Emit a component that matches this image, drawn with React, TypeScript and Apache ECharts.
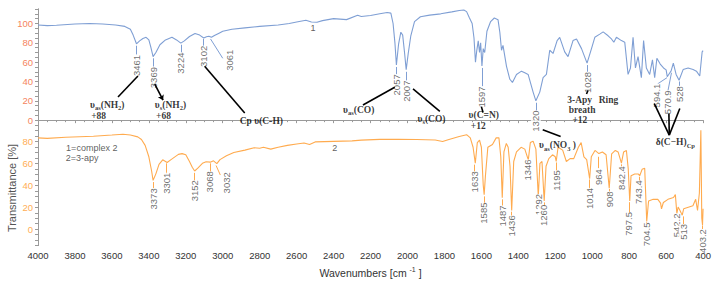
import React, { useEffect, useRef } from 'react';
import * as echarts from 'echarts';

// ---- curve 1: complex 2 (upper scale) [wavenumber, %T]
const complex2Curve: [number, number][] = [
  [4000, 98.5], [3950, 97.8], [3900, 98.2], [3800, 99.5], [3720, 100], [3650, 99.5], [3580, 98.5],
  [3530, 97], [3500, 94], [3485, 88], [3467, 79], [3450, 82], [3432, 84.5], [3415, 85.7], [3400, 83],
  [3390, 76], [3377, 65.7], [3362, 70], [3340, 78], [3310, 83], [3275, 85.7], [3250, 83], [3227, 79.7],
  [3208, 82], [3180, 86.5], [3150, 89.7], [3125, 88], [3103, 85], [3088, 86.3], [3075, 86.8], [3061, 85.7],
  [3045, 87.5], [3020, 90], [3000, 92], [2950, 94], [2880, 95.5], [2800, 97], [2700, 98.5], [2640, 100],
  [2600, 101.5], [2550, 103.3], [2520, 101.5], [2490, 101.3], [2460, 103], [2400, 105], [2330, 104],
  [2270, 108.5], [2250, 107.3], [2200, 108.3], [2150, 110], [2110, 111.3], [2090, 110.7], [2078, 100],
  [2068, 80], [2060, 57], [2048, 79], [2036, 91], [2026, 88], [2016, 70], [2007, 52.3], [1996, 69],
  [1982, 87.3], [1962, 102], [1930, 107], [1880, 108.7], [1820, 110], [1760, 112], [1720, 113.5],
  [1695, 114], [1680, 112.3], [1665, 106], [1650, 100], [1640, 85], [1632, 60], [1625, 72], [1617, 82],
  [1610, 70], [1604, 80], [1597, 56], [1590, 74], [1582, 70], [1570, 92], [1550, 102], [1530, 105.7],
  [1510, 104], [1500, 90.7], [1491, 72.3], [1483, 77.3], [1464, 55.7], [1446, 42.3], [1432, 39],
  [1410, 47.3], [1383, 50.7], [1365, 49], [1347, 47.3], [1320, 29], [1305, 20], [1284, 29], [1266, 44],
  [1248, 47.3], [1230, 72.3], [1212, 69], [1190, 82.3], [1176, 85.7], [1149, 70.7], [1131, 65.7],
  [1104, 82.3], [1085, 84], [1058, 74], [1028, 59], [1004, 74], [986, 85.7], [959, 89], [941, 91.3],
  [914, 87.3], [896, 84], [883, 80.7], [869, 85.7], [842, 82.3], [824, 80.7], [806, 47.3], [793, 54],
  [779, 85.7], [766, 54], [752, 65.7], [734, 44], [722, 82.3], [707, 54], [689, 47.3], [674, 62.3],
  [662, 44], [650, 64], [632, 58], [614, 54], [600, 52], [594, 45], [586, 47.3], [573, 51], [561, 59],
  [546, 47.3], [530, 41.3], [508, 52.3], [481, 54], [454, 52.3], [436, 50.7], [418, 45.7], [405, 70.7],
  [400, 72],
];

// ---- curve 2: 3-apy (lower scale) [wavenumber, %T]
const apyCurve: [number, number][] = [
  [4000, 83.5], [3950, 83], [3850, 84], [3700, 85], [3600, 86.1], [3540, 86.8], [3500, 86.1], [3460, 84.4],
  [3440, 82], [3420, 76.6], [3400, 66.2], [3385, 53.2], [3377, 44.6], [3362, 50.6], [3345, 59.3],
  [3325, 63.4], [3301, 61], [3280, 63.6], [3240, 68.4], [3220, 69.1], [3200, 68], [3180, 61.9],
  [3165, 56.7], [3152, 53.2], [3135, 55.8], [3110, 60.2], [3090, 61.6], [3068, 61.3], [3050, 62.5],
  [3032, 59.9], [3015, 63.6], [2980, 67.1], [2940, 70.1], [2880, 72.3], [2830, 74.5], [2800, 74],
  [2780, 74.9], [2740, 73.2], [2700, 74.9], [2650, 76.6], [2600, 77.9], [2560, 78.8], [2530, 77.5],
  [2500, 79.8], [2400, 80.3], [2300, 80.7], [2250, 81.4], [2150, 82.1], [2050, 82.1], [1950, 82],
  [1850, 81.5], [1810, 80.1], [1780, 81.8], [1720, 84.8], [1680, 86.4], [1660, 83.5], [1645, 74.9],
  [1633, 60.4], [1622, 79.2], [1610, 81.4], [1600, 74.9], [1590, 40.3], [1585, 31.6], [1578, 49],
  [1565, 74.9], [1540, 77.5], [1520, 83.5], [1505, 83.5], [1495, 66.2], [1487, 28.7], [1478, 70.6],
  [1465, 78.4], [1455, 74.9], [1445, 57.6], [1436, 17.1], [1425, 61.9], [1410, 70.6], [1385, 74.9],
  [1365, 73.2], [1346, 63.4], [1335, 79.2], [1320, 80.5], [1305, 73.2], [1292, 30.1], [1283, 60.2],
  [1272, 61.9], [1260, 25.8], [1250, 57.6], [1235, 64.5], [1215, 68], [1200, 66.2], [1195, 61.9],
  [1185, 74.9], [1160, 72.3], [1140, 61.9], [1120, 64.5], [1100, 64.5], [1075, 74.9], [1060, 79.2],
  [1045, 66.2], [1030, 63.6], [1014, 46.1], [1005, 66.2], [985, 72], [964, 69.1], [945, 70.6], [925, 68],
  [908, 37.4], [895, 68.8], [875, 72], [860, 70.6], [842, 60.4], [830, 70.6], [815, 72], [805, 55],
  [797, 25.8], [790, 48.9], [770, 50.4], [750, 50.4], [743, 48.9], [730, 54.7], [716, 55.8], [705, 7.1],
  [695, 25.8], [670, 27.3], [645, 27.3], [630, 23.8], [625, 18.6], [615, 24.4], [590, 27.3], [560, 29],
  [550, 31.6], [542, 14.3], [535, 20.3], [525, 17.1], [513, 12.8], [505, 18.6], [480, 20.1], [455, 21.5],
  [440, 27.3], [430, 17.1], [420, 33.1], [412, 90.5], [407, 10], [403, 3.9], [400, 18.6],
];

// ---- peak labels [wavenumber, value at label centre, text]
const complex2PeakLabels: [number, number, string][] = [
  [3467, 56.5, '3461'], [3377, 44, '3369'], [3227, 59, '3224'], [3103, 66, '3102'], [2962, 62, '3061'],
  [2060, 36.5, '2057'], [2006, 30, '2007'], [1597, 24, '1597'], [1305, -1, '1320'], [1027, 39, '1028'],
  [652, 25.5, '594.1'], [592, 18.5, '570.9'], [530, 27, '528'],
];
// leader lines [wn1, v1, wn2, v2]
const complex2Leaders: [number, number, number, number][] = [
  [3467, 77, 3467, 68], [3377, 64, 3377, 55.5], [3227, 78, 3227, 70], [3103, 84, 3103, 77],
  [3066, 84, 3000, 64], [2060, 55, 2060, 47.5], [2006, 50, 2006, 41], [1597, 54, 1597, 35],
  [1305, 18, 1305, 10], [1027, 57, 1027, 50], [595, 44, 646, 37.5], [571, 49, 590, 30.5], [530, 40, 530, 35.5],
];

const apyPeakLabels: [number, number, string][] = [
  [3377, 27.7, '3373'], [3305, 42, '3301'], [3152, 35.1, '3152'], [3070, 43.3, '3068'], [2980, 42.4, '3032'],
  [1636, 43.3, '1633'], [1587, 14.7, '1585'], [1486, 12.1, '1487'], [1437, 3, '1436'], [1353, 54.1, '1346'],
  [1293, 22.5, '1292'], [1262, 12.6, '1260'], [1194, 44.6, '1195'], [1016, 28.1, '1014'], [965, 47.6, '964'],
  [909, 27.3, '908'], [842, 46.8, '842.4'], [801, 4.8, '797.5'], [747, 33.8, '743.4'], [706, -4.8, '704.5'],
  [546, 3.5, '542.2'], [505, -2.5, '513'], [403, -10.8, '403.2'],
];
const apyLeaders: [number, number, number, number][] = [
  [3377, 43.1, 3377, 37.4], [3305, 60.2, 3305, 50.6], [3152, 51.5, 3152, 42.9], [3070, 60.2, 3070, 51.5],
  [3036, 58.2, 3013, 49.5], [1636, 59, 1636, 50.6], [1587, 30, 1587, 22.1], [1486, 27.3, 1486, 20.3],
  [1437, 16, 1437, 11.7], [1353, 63, 1353, 61.9], [1293, 29, 1293, 29.5], [1262, 24.5, 1262, 20.3],
  [1194, 61, 1194, 51.5], [1016, 45.5, 1016, 35.9], [965, 66.2, 965, 55.8], [909, 36.8, 909, 34.2],
  [842, 59.3, 842, 55.8], [801, 24.7, 801, 14.3], [747, 48, 747, 43.7], [706, 6.5, 706, 4.8],
  [505, 11.7, 505, 3], [403, 3.5, 403, 0],
];

// ---- assignment annotations [wavenumber, value (upper scale), rich text]
const assignmentTexts: [number, number, string][] = [
  [3625, 16, '{b|υ}{s|as}{b|(NH}{s|2}{b|)}'],
  [3672, 4, '{b|+88}'],
  [3283, 16, '{b|υ}{s|s}{b|(NH}{s|2}{b|)}'],
  [3321, 4, '{b|+68}'],
  [2791, -1, '{b|Cp υ(C-H)}'],
  [2264, 11, '{b|υ}{s|as}{b|(CO)}'],
  [1870, 1.3, '{b|υ}{s|s}{b|(CO)}'],
  [1587, 5, '{b|υ(C=N)}'],
  [1617, -6, '{b|+12}'],
  [1188, -26, '{b|υ}{s|as}{b|(NO}{s|3}{b| )}'],
  [1068, 20.7, '{b|3-Apy}'],
  [912, 20.7, '{b|Ring}'],
  [1055, 10, '{b|breath}'],
  [1067, 0, '{b|+12}'],
  [550, -22.7, '{b|δ(C−H)}{s|Cp}'],
  [3709, -28.7, '{t|1=complex 2}'],
  [3761, -39.3, '{t|2=3-apy}'],
  [2511, 95.7, '{t|1}'],
  [2394, -28.7, '{t|2}'],
];
// black connector lines [wn1, v1, wn2, v2] (upper scale)
const assignmentLines: [number, number, number, number][] = [
  [3459, 45.7, 3567, 24],
  [3098, 55.7, 2881, 7.3],
  [2069, 34, 2241, 15.7],
  [1970, 32.3, 1825, 9],
  [1600, 14, 1591, 8],
  [1268, -10, 1171, -17],
  [1023, 30.7, 1031, 27],
  [664, 17, 583, -15.5],
  [585, 7, 583, -15.5],
  [526, 12, 583, -15.5],
];
const assignmentArrows: [number, number, number, number][] = [
  [3368, 37.3, 3323, 20.7],
];

const upperAxisLabels = [0, 20, 40, 60, 80, 100];
const lowerAxisLabels = [0, 20, 40, 60, 80];

const BLUE = '#7f9fd4';
const ORANGE = '#ffab4f';
const UPPER_LABEL = '#f5845e';
const LOWER_LABEL = '#ffae55';
const AXIS = '#9a9a9a';
const SANS = '"Liberation Sans", Arial, sans-serif';
const SERIF = '"Liberation Serif", "Times New Roman", serif';

function stepValues(from: number, to: number, step: number): number[] {
  const out: number[] = [];
  for (let v = from; v <= to + 1e-9; v += step) out.push(v);
  return out;
}

export default function App() {
  const ref = useRef<HTMLDivElement>(null);

  useEffect(() => {
    document.body.style.margin = '0';
    if (!ref.current) return;
    const chart = echarts.init(ref.current, undefined, { renderer: 'svg' });

    const leaderData = (arr: [number, number, number, number][]) =>
      arr.map(([a, b, c, d]) => ({ coords: [[a, b], [c, d]] }));

    const peakLabelSeries = (arr: [number, number, string][], yIdx: number) => ({
      type: 'scatter',
      xAxisIndex: 0,
      yAxisIndex: yIdx,
      symbolSize: 1,
      itemStyle: { color: 'transparent' },
      silent: true,
      z: 5,
      data: arr.map(([wn, v, t]) => ({ value: [wn, v], name: t })),
      label: {
        show: true,
        position: 'inside',
        formatter: '{b}',
        rotate: 90,
        fontSize: 9.5,
        fontFamily: SANS,
        color: '#4a4a4a',
        backgroundColor: '#fff',
        padding: [0, 0, 0, 0],
      },
    });

    const option: any = {
      animation: false,
      grid: { left: 38, top: 9, width: 665.3, height: 244.8 },
      xAxis: {
        type: 'value',
        min: 400,
        max: 4000,
        interval: 200,
        inverse: true,
        name: '{n|Wavenumbers [cm }{s|-1}{n| ]}',
        nameLocation: 'middle',
        nameGap: 16,
        nameTextStyle: {
          rich: {
            n: { fontSize: 10.5, fontFamily: SANS, color: '#333', lineHeight: 14 },
            s: { fontSize: 7, fontFamily: SANS, color: '#333', lineHeight: 7, verticalAlign: 'top' },
          },
        },
        axisLine: { show: true, lineStyle: { color: AXIS, width: 1 } },
        axisTick: { show: true, length: 3, lineStyle: { color: AXIS } },
        minorTick: { show: true, splitNumber: 4, length: 2, lineStyle: { color: AXIS } },
        axisLabel: {
          fontSize: 9.5,
          fontFamily: SANS,
          color: '#333',
          margin: 5,
          formatter: (v: number) => String(v),
        },
        splitLine: { show: false },
        minorSplitLine: { show: false },
      },
      yAxis: [
        {
          type: 'value',
          min: -129.8,
          max: 115,
          position: 'left',
          axisLine: { show: true, lineStyle: { color: AXIS } },
          axisTick: { show: true, length: 3, lineStyle: { color: AXIS }, customValues: stepValues(-5, 115, 5) },
          axisLabel: {
            color: UPPER_LABEL,
            fontSize: 9.5,
            fontFamily: SANS,
            margin: 5,
            customValues: upperAxisLabels,
            formatter: (v: number) => String(v),
          },
          splitLine: { show: false },
        },
        {
          type: 'value',
          min: -15,
          max: 201.3,
          position: 'left',
          axisLine: { show: true, lineStyle: { color: AXIS } },
          axisTick: { show: true, length: 3, lineStyle: { color: AXIS }, customValues: stepValues(-15, 95, 5) },
          axisLabel: {
            color: LOWER_LABEL,
            fontSize: 9.5,
            fontFamily: SANS,
            margin: 5,
            customValues: lowerAxisLabels,
            formatter: (v: number) => String(v),
          },
          splitLine: { show: false },
        },
      ],
      graphic: [
        {
          type: 'text',
          x: 12,
          y: 188,
          rotation: Math.PI / 2,
          style: {
            text: 'Transmittance [%]',
            fill: '#555',
            font: '11px "Liberation Sans", Arial, sans-serif',
            align: 'center',
            verticalAlign: 'middle',
          },
        },
      ],
      series: [
        {
          type: 'line',
          name: 'complex 2',
          xAxisIndex: 0,
          yAxisIndex: 0,
          data: complex2Curve,
          showSymbol: false,
          symbol: 'none',
          lineStyle: { color: BLUE, width: 1.1 },
          z: 2,
          silent: true,
        },
        {
          type: 'line',
          name: '3-apy',
          xAxisIndex: 0,
          yAxisIndex: 1,
          data: apyCurve,
          showSymbol: false,
          symbol: 'none',
          lineStyle: { color: ORANGE, width: 1.1 },
          z: 2,
          silent: true,
        },
        {
          type: 'lines',
          coordinateSystem: 'cartesian2d',
          xAxisIndex: 0,
          yAxisIndex: 0,
          data: leaderData(complex2Leaders),
          lineStyle: { color: BLUE, width: 1, opacity: 1 },
          silent: true,
          z: 3,
        },
        {
          type: 'lines',
          coordinateSystem: 'cartesian2d',
          xAxisIndex: 0,
          yAxisIndex: 1,
          data: leaderData(apyLeaders),
          lineStyle: { color: ORANGE, width: 1, opacity: 1 },
          silent: true,
          z: 3,
        },
        {
          type: 'lines',
          coordinateSystem: 'cartesian2d',
          xAxisIndex: 0,
          yAxisIndex: 0,
          data: leaderData(assignmentLines),
          lineStyle: { color: '#000', width: 1.6, opacity: 1 },
          silent: true,
          z: 6,
        },
        {
          type: 'lines',
          coordinateSystem: 'cartesian2d',
          xAxisIndex: 0,
          yAxisIndex: 0,
          data: leaderData(assignmentArrows),
          symbol: ['none', 'arrow'],
          symbolSize: 5,
          lineStyle: { color: '#000', width: 1.6, opacity: 1 },
          silent: true,
          z: 6,
        },
        peakLabelSeries(complex2PeakLabels, 0),
        peakLabelSeries(apyPeakLabels, 1),
        {
          type: 'scatter',
          xAxisIndex: 0,
          yAxisIndex: 0,
          symbolSize: 1,
          itemStyle: { color: 'transparent' },
          silent: true,
          z: 7,
          data: assignmentTexts.map(([wn, v, t]) => ({ value: [wn, v], label: { formatter: t } })),
          label: {
            show: true,
            position: 'inside',
            rich: {
              b: { fontFamily: SERIF, fontWeight: 'bold', fontSize: 9.5, color: '#000', lineHeight: 13 },
              s: { fontFamily: SERIF, fontWeight: 'bold', fontSize: 6.5, color: '#000', lineHeight: 8, verticalAlign: 'bottom' },
              t: { fontFamily: SANS, fontSize: 9, color: '#333', lineHeight: 12 },
            },
          },
        },
      ],
    };

    chart.setOption(option);
    return () => chart.dispose();
  }, []);

  return <div ref={ref} style={{ width: 714, height: 283 }} />;
}
